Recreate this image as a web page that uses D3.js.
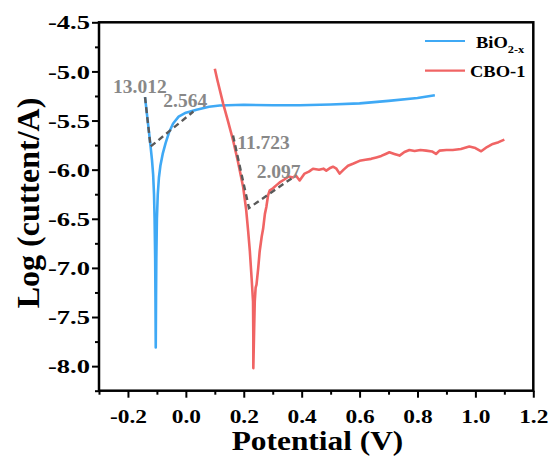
<!DOCTYPE html>
<html><head><meta charset="utf-8">
<script src="https://cdn.jsdelivr.net/npm/d3@7"></script>
<style>
html,body{margin:0;padding:0;background:#fff;}
svg{display:block;}
</style></head>
<body>
<script>
// ---- data ----
const seriesNames = ["BiO2-x", "CBO-1"];
const bioX = [-0.141,-0.135,-0.128,-0.122,-0.117,-0.113,-0.110,-0.108,-0.106,-0.105,-0.104,
  -0.103,-0.102,-0.100,-0.097,-0.093,-0.088,-0.080,-0.070,-0.058,-0.044,-0.025,0.000,0.037,0.080,0.117,0.200,0.300,0.393,0.500,0.600,0.700,0.800,0.860];
const bioY = [-5.262,-5.42,-5.60,-5.76,-5.90,-6.05,-6.25,-6.50,-6.90,-7.30,-7.81,
  -7.30,-6.90,-6.50,-6.25,-6.08,-5.96,-5.84,-5.73,-5.62,-5.53,-5.46,-5.42,-5.39,-5.36,-5.347,-5.34,-5.345,-5.345,-5.337,-5.325,-5.30,-5.27,-5.242];
const cboX = [0.100,0.109,0.129,0.145,0.163,0.180,0.198,0.208,0.215,0.221,0.227,0.232,0.233,0.233,
  0.236,0.238,0.241,0.244,0.250,0.255,0.262,0.267,0.273,0.278,0.284,0.290,0.301,0.312,0.324,0.340,0.355,0.370,0.380,0.393,0.410,0.425,0.439,0.460,0.475,0.485,0.500,0.508,0.520,0.531,0.545,0.560,0.577,0.600,0.620,0.640,0.658,0.675,0.690,0.703,0.720,0.738,0.755,0.772,0.790,0.810,0.830,0.850,0.864,0.876,0.900,0.922,0.950,0.979,1.000,1.020,1.040,1.060,1.080,1.100];
const cboY = [-4.972,-5.09,-5.33,-5.50,-5.70,-5.92,-6.18,-6.40,-6.62,-6.83,-7.10,-7.34,-7.70,-8.02,
  -7.60,-7.34,-7.20,-7.17,-7.00,-6.83,-6.68,-6.60,-6.45,-6.38,-6.26,-6.21,-6.19,-6.16,-6.13,-6.10,-6.07,-6.08,-6.06,-6.11,-6.04,-6.02,-5.99,-6.00,-5.99,-6.01,-5.98,-5.97,-5.99,-6.04,-6.00,-5.96,-5.94,-5.91,-5.90,-5.89,-5.875,-5.86,-5.84,-5.823,-5.84,-5.857,-5.82,-5.80,-5.81,-5.80,-5.806,-5.815,-5.84,-5.806,-5.80,-5.80,-5.79,-5.765,-5.78,-5.813,-5.77,-5.738,-5.72,-5.694];
// tangent (Tafel) lines
const tafelBioX = [-0.141,-0.122,0.026];
const tafelBioY = [-5.262,-5.765,-5.408];
const tafelCboX = [0.163,0.218,0.370];
const tafelCboY = [-5.653,-6.390,-6.079];
const slopeLabels = ["13.012","2.564","11.723","2.097"];
const slopeLabelX = [-0.2516,-0.0779,0.1777,0.2447];
const slopeLabelY = [-5.2245,-5.363,-5.789,-6.085];
const xTicks = [-0.2,0.0,0.2,0.4,0.6,0.8,1.0,1.2];
const xMinor = [-0.3,-0.1,0.1,0.3,0.5,0.7,0.9,1.1];
const yTicks = [-4.5,-5.0,-5.5,-6.0,-6.5,-7.0,-7.5,-8.0];
const yMinor = [-4.75,-5.25,-5.75,-6.25,-6.75,-7.25,-7.75,-8.25];

// ---- chart ----
const W = 552, H = 461;
const L = 99, R = 533.3, T = 22.3, B = 390.7;
const FF = "'Liberation Serif', 'Times New Roman', serif";
const blue = "#3fa9f5", red = "#f06464", dashCol = "#5a5a5a", labCol = "#888888";
const svg = d3.select("body").append("svg").attr("width", W).attr("height", H)
  .attr("font-family", FF).attr("font-weight", "bold");
const x = d3.scaleLinear().domain([-0.3, 1.2]).range([L, R]);
const y = d3.scaleLinear().domain([-8.25, -4.5]).range([B, T]);
const fmt = v => d3.format(".1f")(v).replace("\u2212", "-");

function widen(sel, f) {
  sel.each(function () {
    const w = this.getComputedTextLength();
    d3.select(this).attr("textLength", w * f).attr("lengthAdjust", "spacingAndGlyphs");
  });
}

// minor ticks
svg.append("g").attr("transform", `translate(0,${B})`)
  .call(d3.axisBottom(x).tickValues(xMinor).tickSize(4).tickFormat(""))
  .call(g => g.select(".domain").remove())
  .selectAll("line").attr("stroke-width", 2);
svg.append("g").attr("transform", `translate(${L},0)`)
  .call(d3.axisLeft(y).tickValues(yMinor).tickSize(4).tickFormat(""))
  .call(g => g.select(".domain").remove())
  .selectAll("line").attr("stroke-width", 2);

// major ticks
const xa = svg.append("g").attr("transform", `translate(0,${B})`)
  .call(d3.axisBottom(x).tickValues(xTicks).tickSize(7).tickFormat(fmt));
xa.attr("font-family", FF).attr("font-size", 19);
xa.select(".domain").remove();
xa.selectAll("line").attr("stroke-width", 2);
const xt = xa.selectAll("text").attr("y", 32.3).attr("dy", 0).attr("font-size", 19.5).attr("fill", "#000");
widen(xt, 1.2);

const ya = svg.append("g").attr("transform", `translate(${L},0)`)
  .call(d3.axisLeft(y).tickValues(yTicks).tickSize(7).tickFormat(fmt));
ya.attr("font-family", FF).attr("font-size", 19);
ya.select(".domain").remove();
ya.selectAll("line").attr("stroke-width", 2);
const yt = ya.selectAll("text").attr("x", -9).attr("dy", "0.34em").attr("font-size", 19.5).attr("fill", "#000");
widen(yt, 1.36);

// frame
svg.append("rect").attr("x", L).attr("y", T).attr("width", R - L).attr("height", B - T)
  .attr("fill", "none").attr("stroke", "#000").attr("stroke-width", 2.5);

// curves
const line = d3.line().x(d => x(d[0])).y(d => y(d[1]));
const bio = bioX.map((v, i) => [v, bioY[i]]);
const cbo = cboX.map((v, i) => [v, cboY[i]]);
svg.append("path").attr("d", line(bio)).attr("fill", "none").attr("stroke", blue)
  .attr("stroke-width", 2.6).attr("stroke-linejoin", "round");
svg.append("path").attr("d", line(cbo)).attr("fill", "none").attr("stroke", red)
  .attr("stroke-width", 2.6).attr("stroke-linejoin", "round");

// tafel dashed lines
[[tafelBioX, tafelBioY], [tafelCboX, tafelCboY]].forEach(([xs, ys]) => {
  svg.append("path").attr("d", line(xs.map((v, i) => [v, ys[i]])))
    .attr("fill", "none").attr("stroke", dashCol).attr("stroke-width", 2.4)
    .attr("stroke-dasharray", "6,4");
});

// slope labels
svg.append("g").selectAll("text").data(slopeLabels).join("text")
  .attr("x", (d, i) => x(slopeLabelX[i])).attr("y", (d, i) => y(slopeLabelY[i]))
  .attr("font-size", 19.5).attr("fill", labCol).text(d => d);

// axis titles
const xt2 = svg.append("text").attr("x", 317.5).attr("y", 450)
  .attr("text-anchor", "middle").attr("font-size", 28).text("Potential (V)");
widen(xt2, 1.12);
svg.append("text").attr("transform", `translate(39,203) rotate(-90)`)
  .attr("text-anchor", "middle").attr("font-size", 32).text("Log (cuttent/A)");

// legend
const lg = svg.append("g");
lg.append("line").attr("x1", 425).attr("x2", 465).attr("y1", 41).attr("y2", 41)
  .attr("stroke", blue).attr("stroke-width", 2.2);
lg.append("line").attr("x1", 425).attr("x2", 465).attr("y1", 70.7).attr("y2", 70.7)
  .attr("stroke", red).attr("stroke-width", 2.2);
const t1 = lg.append("text").attr("transform", "translate(476,48.3) scale(1.12,1)").attr("font-size", 16.5);
t1.append("tspan").text("BiO");
t1.append("tspan").attr("font-size", 11).attr("dy", 4.5).text("2-x");
const t2 = lg.append("text").attr("x", 470).attr("y", 76.7).attr("font-size", 16.5).text(seriesNames[1]);
widen(t2, 1.12);
</script>
</body></html>
